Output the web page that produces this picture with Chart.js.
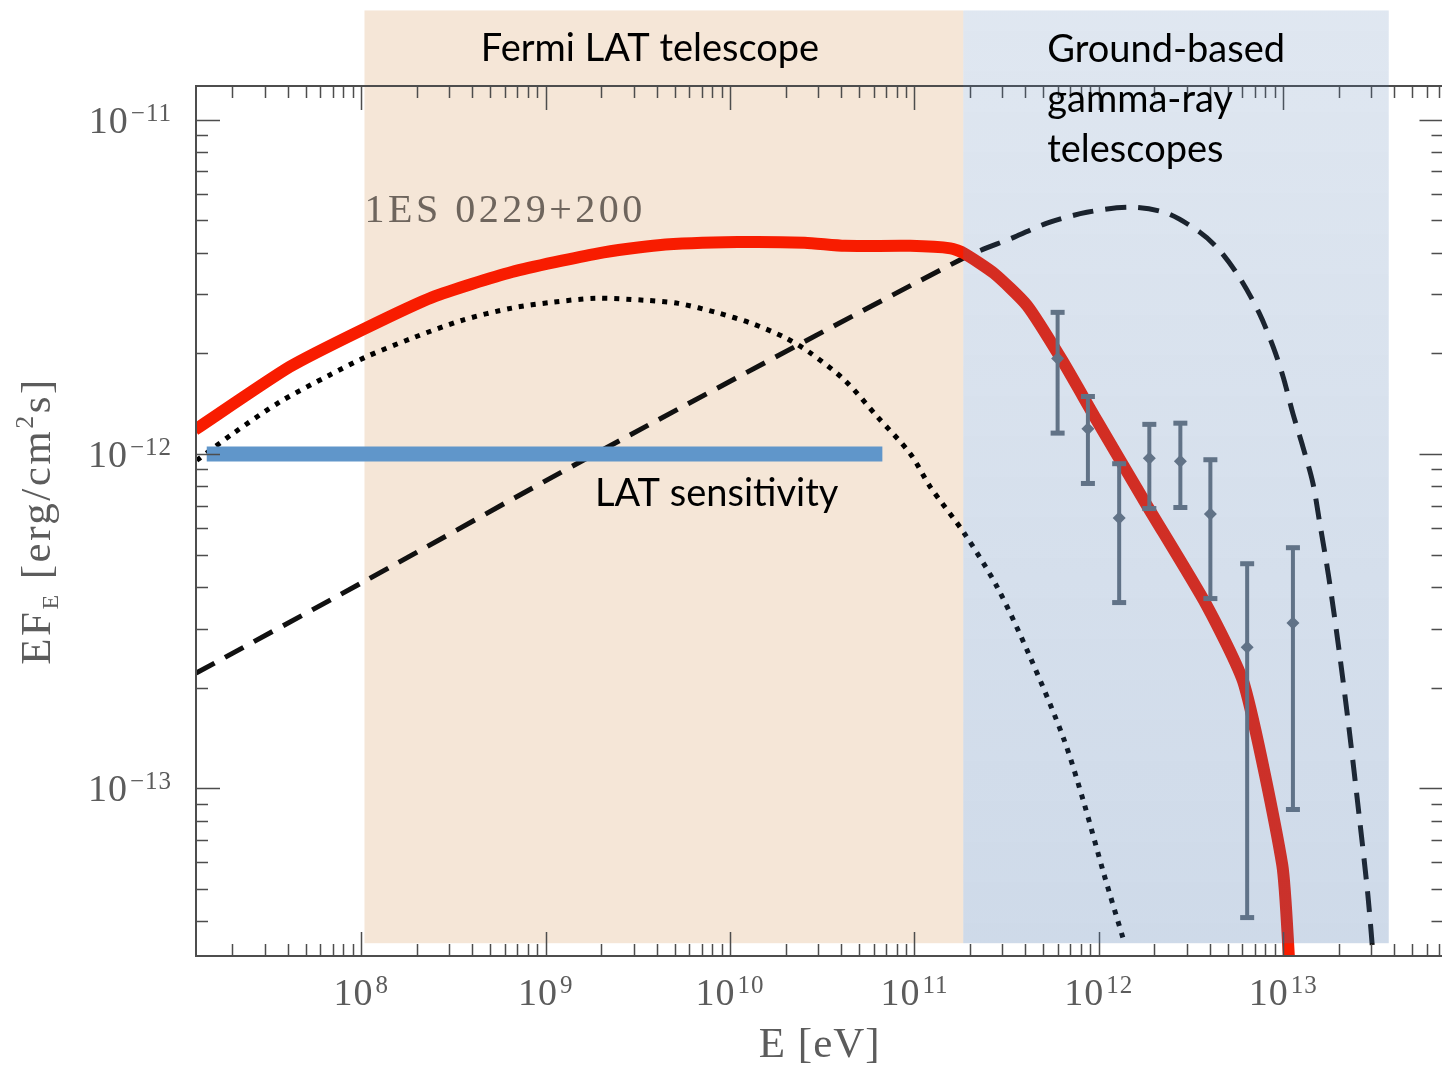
<!DOCTYPE html>
<html lang="en">
<head>
<meta charset="UTF-8">
<title>1ES 0229+200</title>
<script src="https://cdn.jsdelivr.net/npm/chart.js"></script>
<style>
  html, body { margin: 0; padding: 0; overflow: hidden; background: #fff; }
  canvas { display: block; }
</style>
</head>
<body>
<canvas id="sed" width="1450" height="1066"></canvas>
<script>
// energies E in eV, fluxes EF_E in erg/cm^2/s
const redE = [1.25e7, 4.08e7, 1.01e8, 2.42e8, 6.55e8, 1.93e9, 4.08e9, 1.10e10, 2.54e10, 4.19e10, 9.5e10,
              1.57e11, 1.86e11, 2.70e11, 4.08e11, 6.31e11, 9.75e11, 1.82e12, 3.84e12, 6.15e12, 9.89e12, 1.08e13];
const redF = [1.18e-12, 1.82e-12, 2.35e-12, 2.94e-12, 3.50e-12, 3.98e-12, 4.21e-12, 4.30e-12, 4.28e-12, 4.19e-12, 4.19e-12,
              4.12e-12, 3.98e-12, 3.47e-12, 2.78e-12, 1.91e-12, 1.26e-12, 7.03e-13, 3.53e-13, 2.04e-13, 5.9e-14, 3.0e-14];

const dotE = [1.28e7, 2.01e7, 3.61e7, 6.71e7, 1.06e8, 1.89e8, 3.52e8, 6.55e8, 1.08e9, 1.86e9, 3.48e9, 5.24e9, 8.61e9,
              1.30e10, 1.98e10, 2.74e10, 4.19e10, 6.31e10, 9.51e10, 1.22e11, 1.86e11, 2.81e11, 4.24e11, 6.47e11,
              8.30e11, 1.06e12, 1.36e12];
const dotF = [9.57e-13, 1.15e-12, 1.43e-12, 1.72e-12, 1.95e-12, 2.22e-12, 2.51e-12, 2.73e-12, 2.84e-12, 2.92e-12, 2.88e-12,
              2.82e-12, 2.64e-12, 2.46e-12, 2.23e-12, 2.00e-12, 1.66e-12, 1.29e-12, 1.00e-12, 7.96e-13, 5.80e-13,
              4.00e-13, 2.47e-13, 1.40e-13, 9.06e-14, 5.60e-14, 3.53e-14];

const dashE = [1.27e7, 1.0e8, 1.71e9, 1.84e11, 3.48e11, 5.24e11, 8.61e11, 1.47e12, 2.33e12, 3.52e12, 4.51e12, 5.78e12,
               7.41e12, 8.83e12, 1.0e13, 1.13e13, 1.28e13, 1.45e13, 1.57e13, 1.77e13, 2.01e13, 2.28e13, 2.58e13,
               2.88e13, 3.10e13];
const dashF = [2.21e-13, 4.11e-13, 9.77e-13, 3.85e-12, 4.45e-12, 4.90e-12, 5.28e-12, 5.47e-12, 5.25e-12, 4.61e-12,
               4.07e-12, 3.38e-12, 2.64e-12, 2.09e-12, 1.70e-12, 1.32e-12, 1.05e-12, 8.18e-13, 6.34e-13, 4.26e-13,
               2.59e-13, 1.50e-13, 8.34e-14, 4.81e-14, 3.0e-14];

// measured points with error bars
const obsE  = [5.98e11, 8.73e11, 1.29e12, 1.88e12, 2.77e12, 4.03e12, 6.38e12, 1.13e13];
const obsF  = [1.93e-12, 1.19e-12, 6.43e-13, 9.70e-13, 9.50e-13, 6.61e-13, 2.64e-13, 3.12e-13];
const obsHi = [2.66e-12, 1.49e-12, 9.38e-13, 1.23e-12, 1.24e-12, 9.64e-13, 4.71e-13, 5.26e-13];
const obsLo = [1.15e-12, 8.13e-13, 3.58e-13, 6.84e-13, 6.89e-13, 3.68e-13, 4.09e-14, 8.61e-14];

// LAT sensitivity level
const latE = [1.45e7, 6.7e10];
const latF = [1.0e-12, 1.0e-12];

// instrument bands
const fermiBand = [1.04e8, 1.84e11];
const groundBand = [1.84e11, 3.74e13];
const bandFlux = [3.44e-14, 2.12e-11];

// axis
const xTickExp = [8, 9, 10, 11, 12, 13];
const yTickExp = [-11, -12, -13];
const xRange = [1.268e7, 7.41e13];
const yRange = [3.15e-14, 1.26e-11];

const pts = (xs, ys) => xs.map((v, i) => ({ x: v, y: ys[i] }));

const SERIF = '"Liberation Serif", "DejaVu Serif", serif';
const SANS = 'Lato, "Open Sans", sans-serif';

function powLabel(ctx, px, base, exp, align) {
  const sup = exp < 0 ? '\u2212' + (-exp) : String(exp);
  ctx.letterSpacing = '1px';
  ctx.font = '38px ' + SERIF;
  const wb = ctx.measureText('10').width;
  ctx.font = '25px ' + SERIF;
  const ws = ctx.measureText(sup).width;
  const total = wb + 2 + ws;
  const left = align === 'center' ? px - total / 2 : px - total;
  ctx.textAlign = 'left';
  ctx.textBaseline = 'alphabetic';
  ctx.font = '38px ' + SERIF;
  ctx.fillText('10', left, base);
  ctx.font = '25px ' + SERIF;
  ctx.fillText(sup, left + wb + 2, base - 12);
  ctx.letterSpacing = '0px';
}

const sedPlugin = {
  id: 'sed',
  beforeDatasetsDraw(chart) {
    const { ctx, scales: { x, y } } = chart;
    const x0 = x.getPixelForValue(fermiBand[0]), x1 = x.getPixelForValue(fermiBand[1]);
    const yt = y.getPixelForValue(bandFlux[1]), yb = y.getPixelForValue(bandFlux[0]);
    ctx.save();
    ctx.fillStyle = '#f5e6d7';
    ctx.fillRect(x0, yt, x1 - x0, yb - yt);
    ctx.restore();
  },
  beforeDatasetDraw(chart, args) {
    if (args.index !== 0) return;
    const { ctx, scales: { x, y } } = chart;
    ctx.save();
    ctx.strokeStyle = '#69737d';
    ctx.fillStyle = '#69737d';
    ctx.lineWidth = 4;
    obsE.forEach((e, i) => {
      const px = x.getPixelForValue(e);
      const ph = y.getPixelForValue(obsHi[i]);
      const pl = y.getPixelForValue(obsLo[i]);
      ctx.beginPath();
      ctx.moveTo(px, ph);
      ctx.lineTo(px, pl);
      ctx.stroke();
      ctx.fillRect(px - 7, ph - 2, 14, 5);
      ctx.fillRect(px - 7, pl - 3, 14, 5);
    });
    ctx.restore();
  },
  afterDatasetsDraw(chart) {
    const { ctx, chartArea: a, scales: { x, y } } = chart;
    ctx.save();

    // frame and ticks
    ctx.strokeStyle = '#4d4d4d';
    ctx.lineWidth = 2;
    ctx.strokeRect(a.left, a.top, a.right - a.left, a.bottom - a.top);
    ctx.lineWidth = 1.5;
    ctx.beginPath();
    for (let e = 7; e <= 13; e++) {
      for (let m = 1; m <= 9; m++) {
        const v = m * Math.pow(10, e);
        if (v < xRange[0] || v > xRange[1]) continue;
        const px = Math.round(x.getPixelForValue(v)) + 0.5;
        const len = m === 1 ? 24 : 12;
        ctx.moveTo(px, a.bottom); ctx.lineTo(px, a.bottom - len);
        ctx.moveTo(px, a.top); ctx.lineTo(px, a.top + len);
      }
    }
    for (let e = -14; e <= -11; e++) {
      for (let m = 1; m <= 9; m++) {
        const v = m * Math.pow(10, e);
        if (v < yRange[0] || v > yRange[1]) continue;
        const py = Math.round(y.getPixelForValue(v)) + 0.5;
        const len = m === 1 ? 24 : 12;
        ctx.moveTo(a.left, py); ctx.lineTo(a.left + len, py);
        ctx.moveTo(a.right, py); ctx.lineTo(a.right - len, py);
      }
    }
    ctx.stroke();

    // tick labels
    ctx.fillStyle = '#5c5c5c';
    xTickExp.forEach(e => powLabel(ctx, x.getPixelForValue(Math.pow(10, e)), a.bottom + 49, e, 'center'));
    yTickExp.forEach(e => powLabel(ctx, a.left - 24, y.getPixelForValue(Math.pow(10, e)) + 13, e, 'right'));

    // axis titles
    ctx.font = '43px ' + SERIF;
    ctx.letterSpacing = '1px';
    ctx.textAlign = 'center';
    ctx.fillText('E [eV]', (a.left + a.right) / 2, a.bottom + 101);

    const parts = [
      ['EF', 43, 0], ['E', 24, 8], [' [erg/cm', 43, 0], ['2', 26, -17], ['s]', 43, 0]
    ];
    ctx.letterSpacing = '2.5px';
    let tw = 0;
    parts.forEach(p => { ctx.font = p[1] + 'px ' + SERIF; tw += ctx.measureText(p[0]).width; });
    ctx.translate(a.left - 146, (a.top + a.bottom) / 2);
    ctx.rotate(-Math.PI / 2);
    ctx.textAlign = 'left';
    let cx = -tw / 2;
    parts.forEach(p => {
      ctx.font = p[1] + 'px ' + SERIF;
      ctx.fillText(p[0], cx, p[2]);
      cx += ctx.measureText(p[0]).width;
    });
    ctx.setTransform(1, 0, 0, 1, 0, 0);

    // source name
    ctx.fillStyle = '#6e655d';
    ctx.font = '40px ' + SERIF;
    ctx.letterSpacing = '3.5px';
    ctx.textAlign = 'left';
    ctx.fillText('1ES 0229+200', x.getPixelForValue(fermiBand[0]), a.top + 136);
    ctx.letterSpacing = '0px';

    // ground-based band, laid over the plot
    const g0 = x.getPixelForValue(groundBand[0]), g1 = x.getPixelForValue(groundBand[1]);
    const gt = y.getPixelForValue(bandFlux[1]), gb = y.getPixelForValue(bandFlux[0]);
    const grad = ctx.createLinearGradient(0, gt, 0, gb);
    grad.addColorStop(0, 'rgba(67,112,170,0.17)');
    grad.addColorStop(1, 'rgba(67,112,170,0.26)');
    ctx.fillStyle = grad;
    ctx.fillRect(g0, gt, g1 - g0, gb - gt);

    // labels
    ctx.fillStyle = '#000';
    ctx.font = '38px ' + SANS;
    ctx.textAlign = 'center';
    ctx.fillText('Fermi LAT telescope', 650, 61);
    ctx.textAlign = 'left';
    ['Ground-based', 'gamma-ray', 'telescopes'].forEach((t, i) => ctx.fillText(t, g0 + 84, 62 + i * 50));
    ctx.fillText('LAT sensitivity', 595, 506);

    ctx.restore();
  }
};

new Chart(document.getElementById('sed'), {
  type: 'line',
  data: {
    datasets: [
      {
        data: pts(obsE, obsF),
        showLine: false,
        pointStyle: 'rectRot',
        pointRadius: 6.5,
        pointBackgroundColor: '#69737d',
        pointBorderWidth: 0
      },
      {
        data: pts(redE, redF),
        borderColor: '#f81c00',
        borderWidth: 12,
        pointRadius: 0,
        tension: 0.2,
        clip: 0
      },
      {
        data: pts(latE, latF),
        borderColor: '#6096ca',
        borderWidth: 15,
        borderCapStyle: 'butt',
        pointRadius: 0
      },
      {
        data: pts(dashE, dashF),
        borderColor: '#111111',
        borderWidth: 5,
        borderDash: [21, 12],
        pointRadius: 0,
        tension: 0.3,
        clip: 0
      },
      {
        data: pts(dotE, dotF),
        borderColor: '#000000',
        borderWidth: 5,
        borderDash: [5, 7],
        pointRadius: 0,
        tension: 0.3,
        clip: 0
      }
    ]
  },
  options: {
    responsive: false,
    animation: false,
    devicePixelRatio: 1,
    layout: { padding: { left: 196, top: 86, right: 2, bottom: 110 } },
    scales: {
      x: { type: 'logarithmic', min: xRange[0], max: xRange[1], display: false },
      y: { type: 'logarithmic', min: yRange[0], max: yRange[1], display: false }
    },
    plugins: { legend: { display: false }, tooltip: { enabled: false } }
  },
  plugins: [sedPlugin]
});
</script>
</body>
</html>
